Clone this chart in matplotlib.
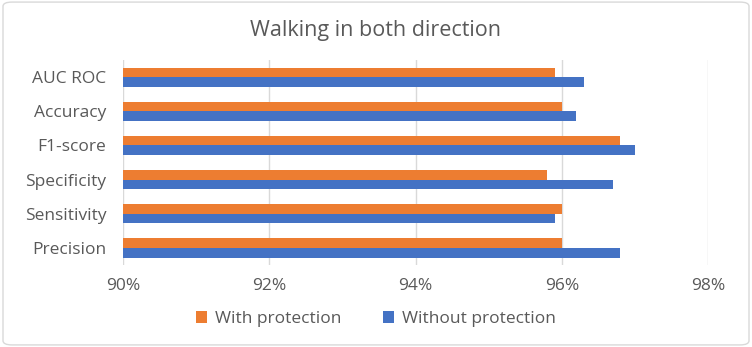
import numpy as np
import matplotlib
matplotlib.use("Agg")
import matplotlib.pyplot as plt
from matplotlib.patches import FancyBboxPatch
from matplotlib.ticker import FuncFormatter

# categories listed top to bottom as in the chart
metrics = ["AUC ROC", "Accuracy", "F1-score", "Specificity", "Sensitivity", "Precision"]
with_protection = [95.9, 96.0, 96.8, 95.8, 96.0, 96.0]
without_protection = [96.3, 96.2, 97.0, 96.7, 95.9, 96.8]
x_ticks = [90, 92, 94, 96, 98]

orange = "#ED7D31"
blue = "#4472C4"
text_col = "#595959"

plt.rcParams["font.family"] = ["Open Sans", "DejaVu Sans"]

fig = plt.figure(figsize=(7.52, 3.47), dpi=100)
ax = fig.add_axes([0.1636, 0.236, 0.778, 0.591])

y = np.arange(len(metrics))
h = 0.28
ax.barh(y - h / 2, with_protection, height=h, color=orange, label="With protection", zorder=3)
ax.barh(y + h / 2, without_protection, height=h, color=blue, label="Without protection", zorder=3)

ax.set_xlim(90, 98)
ax.set_ylim(len(metrics) - 0.5, -0.5)
ax.set_xticks(x_ticks)
ax.xaxis.set_major_formatter(FuncFormatter(lambda v, p: f"{v:.0f}%"))
ax.set_yticks(y)
ax.set_yticklabels(metrics)
ax.tick_params(axis="both", length=0, colors=text_col, labelsize=12.5)
ax.tick_params(axis="x", pad=9)
ax.tick_params(axis="y", pad=12)
ax.grid(axis="x", color="#D9D9D9", linewidth=1, zorder=0)
for s in ax.spines.values():
    s.set_visible(False)

fig.text(0.5, 0.913, "Walking in both direction", ha="center", va="center",
         fontsize=15.5, color=text_col)

fig.legend(loc="center", bbox_to_anchor=(0.5, 0.08), ncol=2, frameon=False,
           fontsize=12.5, labelcolor=text_col, handlelength=0.65, handleheight=0.65,
           columnspacing=2.4, handletextpad=0.45)

# light rounded border around the whole chart
fig.patches.append(FancyBboxPatch((0.004, 0.006), 0.992, 0.988,
                                  boxstyle="round,pad=0,rounding_size=0.012",
                                  transform=fig.transFigure, facecolor="none",
                                  edgecolor="#D9D9D9", linewidth=1))

fig.savefig("out.png", dpi=100)
